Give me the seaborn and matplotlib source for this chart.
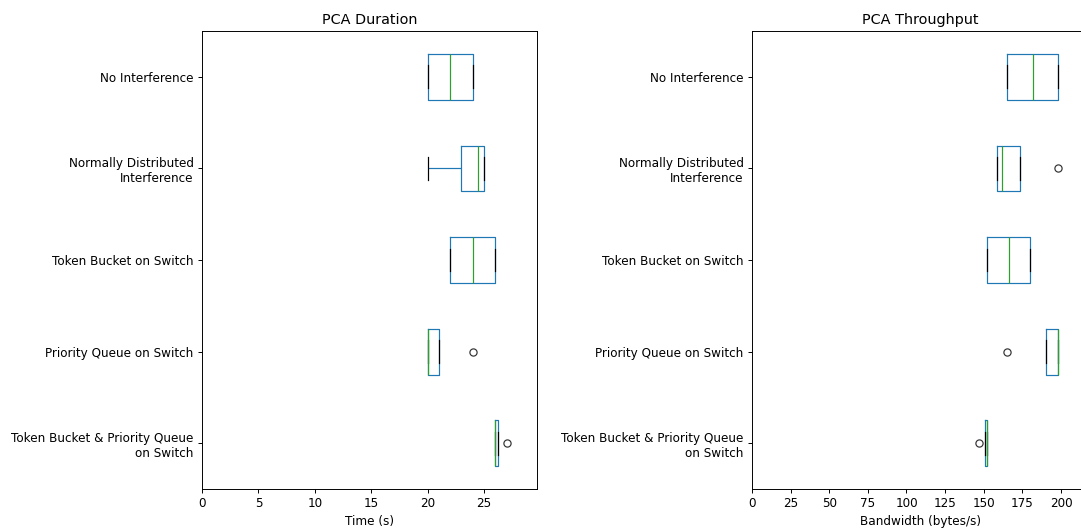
import pandas as pd
import matplotlib
matplotlib.use("Agg")
import matplotlib.pyplot as plt
import seaborn as sns

# scenarios, 4 runs each
scenarios = [
    "No Interference",
    "Normally Distributed\nInterference",
    "Token Bucket on Switch",
    "Priority Queue on Switch",
    "Token Bucket & Priority Queue\non Switch",
]
duration = [
    [20, 20, 24, 24],
    [20, 24, 25, 25],
    [22, 22, 26, 26],
    [20, 20, 20, 24],
    [26, 26, 26, 27],
]
throughput = [
    [165.3, 165.3, 198.3, 198.3],
    [198.3, 165.3, 158.7, 158.7],
    [151.9, 151.9, 180.2, 180.2],
    [165.3, 198.3, 198.3, 198.3],
    [147.1, 152.4, 152.4, 152.4],
]

rows = []
for name, d, t in zip(scenarios, duration, throughput):
    for dv, tv in zip(d, t):
        rows.append({"scenario": name, "duration": dv, "throughput": tv})
df = pd.DataFrame(rows)

DPI = 86.4
fig = plt.figure(figsize=(1081 / DPI, 528 / DPI), dpi=DPI)
ax1 = fig.add_axes([202 / 1081, 39 / 528, 335 / 1081, 458 / 528])
ax2 = fig.add_axes([752 / 1081, 39 / 528, 337 / 1081, 458 / 528])

box_kws = dict(
    orient="h", order=scenarios, width=0.5, fill=False, linewidth=1,
    color="#1f77b4",
    medianprops=dict(color="#2ca02c", linewidth=1),
    capprops=dict(color="black", linewidth=1),
    whiskerprops=dict(color="#1f77b4", linewidth=1),
    boxprops=dict(color="#1f77b4", linewidth=1),
    flierprops=dict(marker="o", markerfacecolor="none", markeredgecolor="#333333",
                    markersize=6, markeredgewidth=1),
)

sns.boxplot(data=df, x="duration", y="scenario", ax=ax1, **box_kws)
ax1.set_xlim(0, 27 * 1.1)
ax1.set_title("PCA Duration", fontsize=12)
ax1.set_xlabel("Time (s)")
ax1.set_ylabel("")

sns.boxplot(data=df, x="throughput", y="scenario", ax=ax2, **box_kws)
ax2.set_xlim(0, 198.3 * 1.1)
ax2.set_title("PCA Throughput", fontsize=12)
ax2.set_xlabel("Bandwidth (bytes/s)")
ax2.set_ylabel("")

for ax in (ax1, ax2):
    ax.tick_params(labelsize=10)
    for s in ax.spines.values():
        s.set_linewidth(0.8)

fig.savefig("out.png", dpi=DPI)
